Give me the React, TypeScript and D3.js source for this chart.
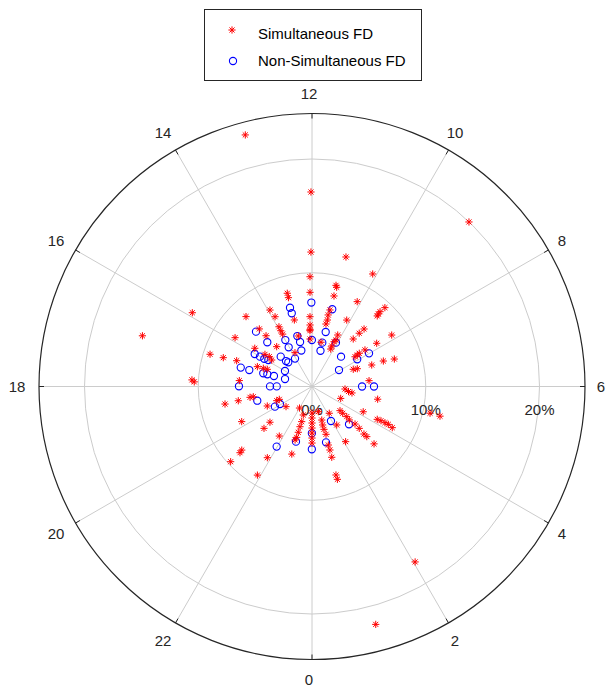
import React from "react";
import * as d3 from "d3";

// Simultaneous FD: hour of day and percentage
const simHour = [
  12.07, 12.08, 12.11, 12.12, 12.13, 12.14, 12.16, 12.02, 12.03,
  12.99, 12.99, 12.99, 13.01, 12.99, 13.78,
  13.92, 13.86, 13.93, 13.95, 13.95,
  14.89, 14.83, 14.81, 14.77,
  15.89, 15.84, 15.75, 15.71, 15.67, 15.78,
  16.83, 16.8, 16.74, 16.67, 16.63, 16.6, 16.89,
  17.69, 17.85, 17.79,
  11.11, 11.07, 11.09, 11.12, 11.15, 11.13, 11.16, 11.23, 11.02,
  10.11, 10.13, 10.16, 10.23, 10.18, 10.25, 10.27, 10.23,
  9.15, 9.18, 9.17, 9.15, 9.19, 9.23, 9.27, 9.09,
  8.19, 8.25, 8.31, 8.34, 8.32, 8.31,
  7.23, 7.31, 7.32, 7.43, 7.51,
  6.39,
  5.71, 5.48, 5.39, 5.27, 5.15, 5.13,
  4.5, 4.25, 4.22, 4.24, 4.24, 4.24, 4.19,
  3.28, 3.26, 3.27, 3.21, 3.26, 3.23, 3.17, 3.17, 3.15,
  2.19, 2.18, 2.09, 2.03,
  0.94, 1.08, 1.03, 1.04, 1.09, 1.04, 1.05, 1.04, 1.01, 1.02, 1.0,
  0.0, 0.0, 0.0, 0.0, 0.0, 0.0, 0.0,
  22.87, 22.91, 22.89, 22.89, 22.88, 22.83, 22.89,
  21.99, 21.77, 21.86, 21.89,
  20.52, 20.69, 20.74, 20.81, 20.84, 20.85,
  19.57, 19.46, 19.43, 19.77,
  18.76, 18.73, 18.66, 18.66,
];
const simPct = [
  9.65, 8.28, 6.14, 5.41, 5.03, 4.91, 4.18, 17.1, 11.82,
  8.48, 8.08, 6.05, 4.6, 22.88, 3.33,
  7.67, 6.94, 6.0, 5.62, 5.28,
  8.45, 6.86, 6.02, 4.68,
  12.36, 8.01, 6.05, 5.01, 4.58, 4.24,
  9.4, 8.2, 7.0, 5.11, 4.57, 4.21, 15.56,
  6.41, 10.36, 10.57,
  9.14, 8.99, 8.19, 6.91, 6.45, 6.0, 5.63, 3.97, 11.77,
  11.24, 8.45, 6.59, 5.06, 4.6, 4.39, 3.96, 3.68,
  9.44, 8.89, 8.64, 8.45, 6.82, 6.26, 5.53, 19.99,
  8.34, 6.84, 5.66, 5.08, 4.85, 4.6,
  7.63, 6.66, 5.58, 4.28, 3.93,
  5.04,
  2.91, 3.24, 3.56, 5.88, 10.64, 11.55,
  2.73, 5.02, 6.42, 6.77, 7.16, 7.49, 7.93,
  3.25, 3.58, 4.04, 4.41, 5.02, 5.55, 6.19, 6.53, 7.43,
  2.8, 4.02, 5.68, 17.89,
  2.28, 3.07, 3.51, 3.91, 4.38, 5.34, 5.8, 6.46, 8.06, 8.46, 21.65,
  2.33, 2.77, 3.21, 3.65, 4.09, 4.53, 4.97,
  2.62, 3.22, 3.69, 4.2, 4.67, 4.93, 6.2,
  2.19, 5.22, 7.39, 9.15,
  2.89, 4.85, 5.6, 8.33, 8.6, 9.74,
  4.29, 3.34, 3.09, 6.91,
  7.8, 6.6, 5.53, 5.24,
];

// Non-Simultaneous FD: hour of day and percentage
const nonSimHour = [
  12.03, 13.04, 13.03, 15.04, 15.02, 13.99, 13.08, 13.0, 13.1, 12.01,
  14.05, 11.11, 16.03, 16.01, 15.99, 15.92, 15.09, 15.04, 14.96, 14.09,
  17.01, 17.02, 16.99, 16.98, 16.97, 16.01, 16.97, 17.99, 17.99, 17.99,
  11.02, 11.06, 11.12, 10.09, 9.05, 8.07, 8.01, 8.09, 6.0, 6.0,
  18.97, 19.9, 19.91, 21.97, 22.92, 23.99, 23.99, 1.92, 2.96, 0.94,
];
const nonSimPct = [
  7.38, 7.19, 6.68, 6.89, 5.53, 4.71, 4.62, 4.05, 3.3, 4.09,
  4.01, 3.23, 5.79, 5.27, 4.85, 4.49, 3.8, 3.2, 2.98, 2.87,
  6.48, 5.7, 4.44, 4.07, 3.47, 2.74, 2.46, 6.42, 3.69, 3.1,
  7.02, 4.94, 3.96, 4.39, 3.66, 4.64, 5.8, 2.78, 4.4, 5.45,
  4.97, 3.71, 3.21, 6.13, 5.05, 4.11, 5.52, 3.46, 4.65, 5.06,
];

const hourTicks = [0, 2, 4, 6, 8, 10, 12, 14, 16, 18, 20, 22];
const ringTicks = [0, 10, 20];
const legendLabels = ["Simultaneous FD", "Non-Simultaneous FD"];

const W = 606;
const H = 688;
const cx = 312;
const cy = 386.5;
const R = 273;
const rMax = 24;
const FONT = "'Liberation Sans', Arial, Helvetica, sans-serif";

function starPath(s: number) {
  const k = s * 0.7;
  return `M${-s},0H${s}M0,${-s}V${s}M${-k},${-k}L${k},${k}M${-k},${k}L${k},${-k}`;
}

export default function App() {
  const r = d3.scaleLinear().domain([0, rMax]).range([0, R]);
  const ang = d3.scaleLinear().domain([0, 24]).range([0, 2 * Math.PI]);
  const px = (h: number, v: number) => cx + r(v) * Math.sin(ang(h));
  const py = (h: number, v: number) => cy + r(v) * Math.cos(ang(h));
  const star = starPath(3.6);

  return (
    <svg
      width={W}
      height={H}
      style={{ position: "absolute", left: 0, top: 0, background: "#fff" }}
      fontFamily={FONT}
    >
      {/* rings */}
      {ringTicks
        .filter((t) => t > 0)
        .map((t) => (
          <circle key={t} cx={cx} cy={cy} r={r(t)} fill="none" stroke="#cccccc" strokeWidth={1} />
        ))}
      {/* spokes */}
      {hourTicks.map((h) => (
        <line
          key={"s" + h}
          x1={cx}
          y1={cy}
          x2={px(h, rMax)}
          y2={py(h, rMax)}
          stroke="#cccccc"
          strokeWidth={1}
        />
      ))}
      {/* tick marks */}
      {hourTicks.map((h) => (
        <line
          key={"t" + h}
          x1={cx + (R - 5) * Math.sin(ang(h))}
          y1={cy + (R - 5) * Math.cos(ang(h))}
          x2={px(h, rMax)}
          y2={py(h, rMax)}
          stroke="#262626"
          strokeWidth={1}
        />
      ))}
      <circle cx={cx} cy={cy} r={R} fill="none" stroke="#262626" strokeWidth={1.2} />
      {/* hour labels */}
      {hourTicks.map((h) => (
        <text
          key={"l" + h}
          x={cx - 3 + 292 * Math.sin(ang(h))}
          y={cy + 293 * Math.cos(ang(h))}
          textAnchor="middle"
          dominantBaseline="central"
          fontSize={15}
          fill="#262626"
        >
          {h}
        </text>
      ))}
      {/* ring labels */}
      {ringTicks.map((t) => (
        <text
          key={"p" + t}
          x={cx + r(t)}
          y={cy + 23}
          textAnchor="middle"
          dominantBaseline="central"
          fontSize={15}
          fill="#262626"
        >
          {t + "%"}
        </text>
      ))}
      {/* data */}
      {nonSimHour.map((h, i) => (
        <circle
          key={"c" + i}
          cx={px(h, nonSimPct[i])}
          cy={py(h, nonSimPct[i])}
          r={3.6}
          fill="none"
          stroke="#0000ff"
          strokeWidth={1.1}
        />
      ))}
      {simHour.map((h, i) => (
        <path
          key={"st" + i}
          d={star}
          transform={`translate(${px(h, simPct[i])},${py(h, simPct[i])})`}
          fill="none"
          stroke="#ff0000"
          strokeWidth={1}
        />
      ))}
      {/* legend */}
      <rect x={204.5} y={9.5} width={217} height={71} fill="#fff" stroke="#262626" strokeWidth={1} />
      <path d={star} transform="translate(232,30)" fill="none" stroke="#ff0000" strokeWidth={1} />
      <text x={258} y={39} fontSize={15} fill="#000">
        {legendLabels[0]}
      </text>
      <circle cx={233} cy={61} r={3.6} fill="none" stroke="#0000ff" strokeWidth={1.1} />
      <text x={258} y={66} fontSize={15} fill="#000">
        {legendLabels[1]}
      </text>
    </svg>
  );
}
